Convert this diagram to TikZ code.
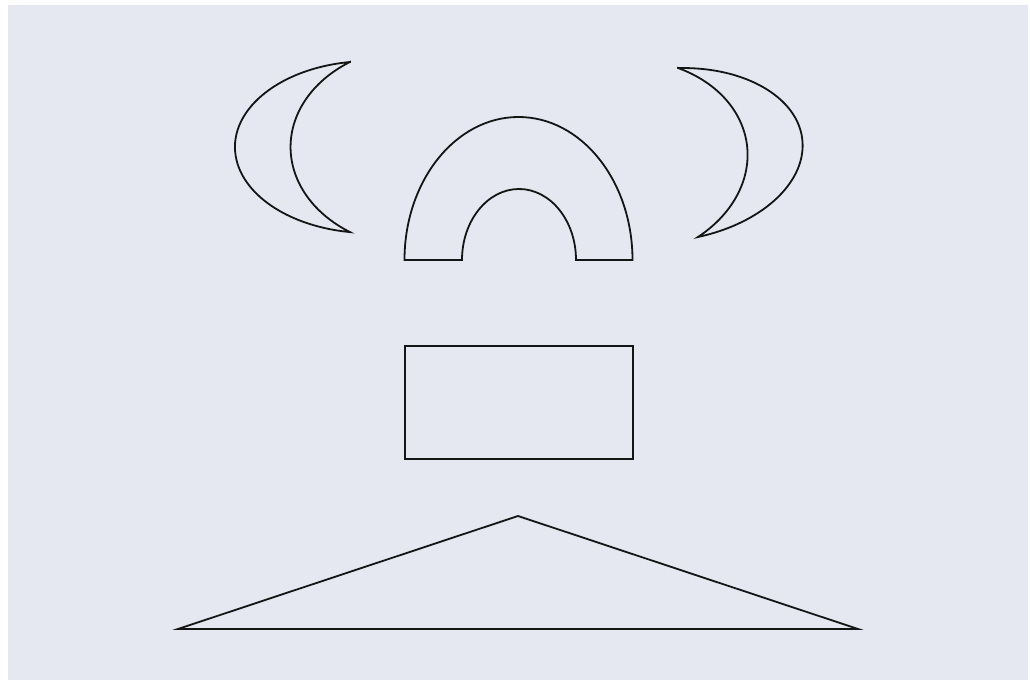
\documentclass[tikz,border=0pt]{standalone}
\definecolor{bgc}{HTML}{E5E8F0}
\definecolor{ink}{HTML}{151515}
\tikzset{
  shapeline/.style={draw=ink, line width=1.8pt, line join=miter},
  crescentpath/.pic={
    \draw[shapeline] (0,85) arc[start angle=98.5, end angle=261.5, x radius=135, y radius=86]
      arc[start angle=237.3, end angle=122.7, x radius=129.3, y radius=101.1] -- cycle;
  }
}
\begin{document}
\begin{tikzpicture}[x=1pt,y=1pt]
\useasboundingbox (0,0) rectangle (1030,680);
\fill[white] (0,0) rectangle (1030,680);
\fill[bgc] (8,0) rectangle (1028,675);
% left crescent
\pic at (350,533) {crescentpath};
% right crescent (mirrored, slightly rotated)
\begin{scope}[shift={(688,527.5)}, rotate=6.7, xscale=-1]
  \draw[shapeline] (0,85) arc[start angle=98.5, end angle=261.5, x radius=135, y radius=86]
      arc[start angle=237.3, end angle=122.7, x radius=129.3, y radius=101.1] -- cycle;
\end{scope}
% arch
\draw[shapeline] (404.5,420) arc[start angle=180, end angle=0, x radius=114, y radius=143]
  -- (576,420) arc[start angle=0, end angle=180, x radius=57, y radius=71] -- cycle;
% rectangle
\draw[shapeline] (405,221) rectangle (633,334);
% triangle
\draw[shapeline] (178,51) -- (518,164) -- (858,51) -- cycle;
\end{tikzpicture}
\end{document}
